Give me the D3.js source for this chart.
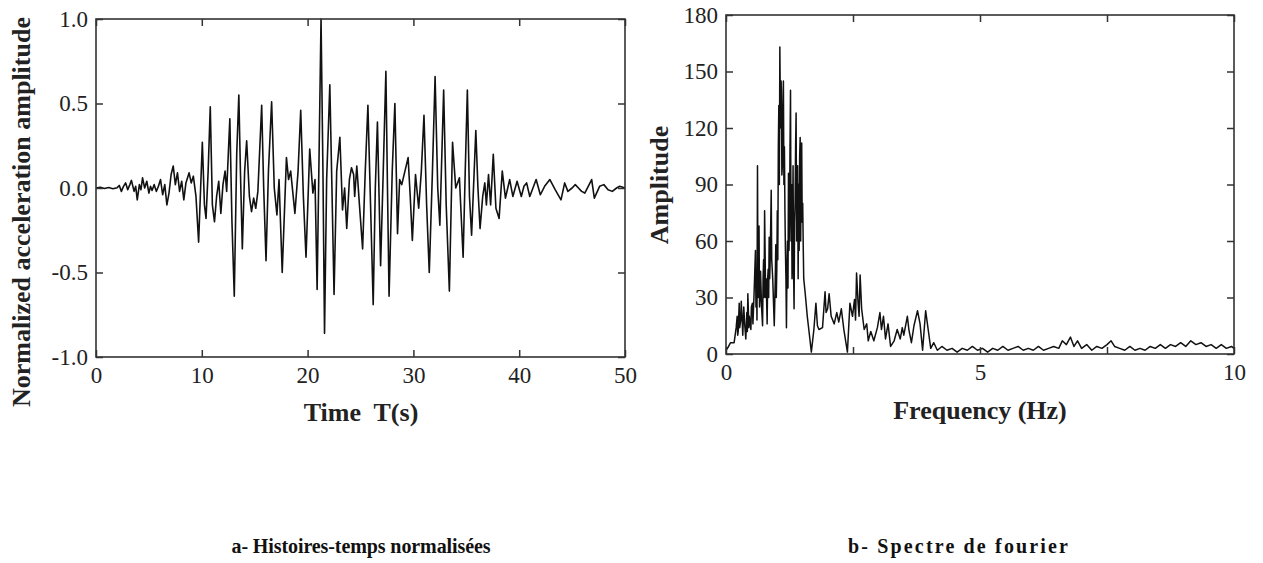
<!DOCTYPE html>
<html>
<head>
<meta charset="utf-8">
<script src="https://cdn.jsdelivr.net/npm/d3@7"></script>
<style>
  body { margin: 0; background: #fff; }
  svg text { font-family: "Liberation Serif", "Times New Roman", serif; }
</style>
</head>
<body>
<script>
// Normalized acceleration time history: [time (s), amplitude]
const accSeries = [
  [0,0],[0.4,0.004],[0.8,-0.003],[1.2,0.003],[1.6,-0.004],[2.0,0.002],
  [2.2,0.015],[2.4,-0.02],[2.6,0.01],[2.8,0.03],[3.0,-0.01],[3.2,0.02],[3.35,0.045],[3.6,-0.02],[3.75,0.01],
  [3.9,-0.07],[4.1,0.02],[4.25,-0.01],[4.4,0.06],[4.6,0.0],[4.8,0.04],[5.0,-0.03],[5.15,0.01],[5.3,-0.015],
  [5.5,0.02],[5.7,-0.02],[5.9,0.01],[6.1,0.05],[6.3,-0.04],[6.5,0.02],[6.7,-0.1],[6.9,-0.03],[7.1,0.08],
  [7.3,0.13],[7.5,0.02],[7.7,0.09],[7.9,-0.02],[8.1,0.04],[8.3,-0.07],[8.5,0.03],[8.8,0.09],[9.0,0.03],
  [9.2,0.07],[9.45,-0.05],[9.7,-0.32],[10.05,0.27],[10.25,-0.1],[10.4,-0.18],[10.6,0.1],[10.8,0.48],
  [11.0,-0.1],[11.2,-0.2],[11.4,-0.05],[11.6,0.04],[11.8,-0.15],[12.0,0.02],[12.2,0.1],[12.35,-0.02],
  [12.65,0.41],[12.85,-0.2],[13.07,-0.64],[13.3,0.2],[13.5,0.55],[13.65,0.1],[13.83,-0.36],[14.05,0.1],
  [14.24,0.28],[14.5,-0.05],[14.7,-0.14],[14.9,-0.06],[15.1,-0.12],[15.3,-0.02],[15.66,0.49],[15.85,0.0],
  [16.07,-0.43],[16.3,0.1],[16.6,0.51],[16.85,0.0],[17.1,-0.16],[17.3,0.05],[17.6,-0.5],[18.0,0.18],
  [18.2,0.05],[18.4,0.1],[18.8,-0.15],[19.1,0.1],[19.35,0.46],[19.6,-0.05],[19.85,-0.41],[20.2,0.23],
  [20.5,-0.03],[20.7,0.05],[20.9,-0.6],[21.27,1.0],[21.45,0.1],[21.6,-0.86],[21.8,0.05],[22.1,0.61],
  [22.3,0.0],[22.5,-0.63],[22.75,0.1],[23.05,0.3],[23.3,-0.13],[23.5,0.0],[23.7,-0.24],[23.95,0.05],
  [24.15,0.12],[24.35,0.08],[24.45,-0.05],[24.65,0.13],[24.9,-0.1],[25.2,-0.36],[25.45,0.1],[25.7,0.49],
  [25.95,-0.1],[26.2,-0.69],[26.4,0.0],[26.6,0.39],[26.9,-0.46],[27.15,0.1],[27.4,0.69],[27.55,0.0],
  [27.7,-0.64],[28.0,0.1],[28.25,0.5],[28.5,-0.27],[28.7,0.05],[28.9,0.02],[29.2,0.1],[29.5,0.18],
  [29.7,-0.05],[29.9,-0.31],[30.2,0.08],[30.5,-0.12],[30.75,0.1],[31.0,0.43],[31.25,-0.1],[31.5,-0.5],
  [31.8,0.1],[32.05,0.66],[32.3,0.0],[32.5,-0.22],[32.86,0.58],[33.1,-0.1],[33.4,-0.61],[33.7,0.27],
  [34.0,0.0],[34.35,0.06],[34.7,-0.41],[34.9,0.1],[35.1,0.58],[35.3,-0.05],[35.5,-0.28],[35.9,0.34],
  [36.1,0.0],[36.3,-0.24],[36.55,-0.05],[36.75,0.03],[36.9,-0.1],[37.1,0.08],[37.3,-0.1],[37.55,0.2],
  [37.8,-0.12],[38.1,-0.18],[38.4,0.1],[38.7,-0.06],[39.1,0.05],[39.4,-0.05],[39.8,0.04],[40.2,-0.05],
  [40.45,0.01],[40.7,0.03],[41.0,-0.05],[41.3,0.0],[41.6,0.05],[42.0,-0.04],[42.4,0.01],[42.9,0.05],
  [43.4,-0.01],[43.95,-0.07],[44.3,0.03],[44.6,-0.02],[45.0,0.0],[45.3,0.02],[45.6,0.0],[45.9,-0.02],
  [46.2,-0.03],[46.85,0.05],[47.1,-0.06],[47.6,0.01],[48.0,0.02],[48.4,-0.01],[48.8,-0.02],[49.2,0.0],
  [49.5,0.01],[50,0.0]
];

// Fourier spectrum: [frequency (Hz), amplitude]
const fourierSeries = [
  [0,2],[0.05,4],[0.09,6],[0.16,6],[0.2,14],[0.22,20],[0.23,10],[0.24,12],[0.26,27],[0.27,14],[0.29,18],
  [0.3,28],[0.32,17],[0.33,10],[0.35,25],[0.37,15],[0.39,8],[0.41,22],[0.42,12],[0.43,32],[0.45,14],
  [0.46,20],[0.49,13],[0.5,25],[0.52,27],[0.53,16],[0.55,30],[0.58,55],[0.59,25],[0.6,40],[0.61,18],
  [0.62,100],[0.63,30],[0.64,60],[0.65,68],[0.66,25],[0.67,30],[0.68,44],[0.7,25],[0.72,15],[0.73,40],
  [0.74,50],[0.75,30],[0.76,76],[0.78,30],[0.79,40],[0.81,16],[0.82,40],[0.83,45],[0.84,30],[0.85,62],
  [0.86,40],[0.87,50],[0.89,87],[0.9,50],[0.92,40],[0.95,15],[0.97,40],[0.98,58],[0.99,30],[1.0,45],
  [1.01,76],[1.02,50],[1.03,110],[1.04,132],[1.05,90],[1.06,163],[1.07,130],[1.08,120],[1.085,145],
  [1.09,140],[1.1,95],[1.11,100],[1.12,130],[1.13,145],[1.14,90],[1.15,110],[1.16,76],[1.17,55],
  [1.18,40],[1.19,14],[1.2,45],[1.21,60],[1.22,35],[1.23,96],[1.24,55],[1.25,70],[1.26,110],[1.27,140],
  [1.28,60],[1.29,90],[1.3,40],[1.31,58],[1.32,100],[1.33,45],[1.34,24],[1.35,70],[1.36,80],[1.37,110],
  [1.38,128],[1.39,60],[1.40,70],[1.41,100],[1.42,40],[1.43,90],[1.44,55],[1.45,105],[1.46,115],
  [1.47,60],[1.48,95],[1.49,112],[1.5,70],[1.51,80],[1.52,58],[1.53,40],[1.56,32],[1.6,20],[1.63,13],
  [1.68,1],[1.73,13],[1.77,27],[1.8,15],[1.83,13],[1.9,14],[1.95,33],[1.97,22],[2.0,24],[2.03,32],
  [2.07,20],[2.13,16],[2.18,22],[2.22,17],[2.27,24],[2.32,13],[2.39,1],[2.44,27],[2.49,20],[2.53,29],
  [2.55,18],[2.57,43],[2.6,27],[2.62,20],[2.64,42],[2.67,24],[2.72,13],[2.77,16],[2.8,7],[2.85,12],
  [2.91,7],[2.98,14],[3.03,22],[3.06,13],[3.1,20],[3.14,8],[3.19,16],[3.24,4],[3.31,7],[3.37,13],
  [3.43,8],[3.47,14],[3.5,10],[3.57,20],[3.6,13],[3.65,6],[3.7,15],[3.77,23],[3.82,16],[3.87,2],
  [3.93,23],[3.98,13],[4.03,3],[4.09,6],[4.16,2],[4.25,4],[4.35,2],[4.45,3],[4.55,1],[4.65,3],[4.75,2],
  [4.85,4],[4.95,2],[5.05,3],[5.15,1],[5.25,3],[5.35,2],[5.45,4],[5.55,2],[5.65,3],[5.75,4],[5.85,2],
  [5.95,3],[6.05,2],[6.15,4],[6.25,2],[6.35,3],[6.45,4],[6.55,3],[6.62,7],[6.7,5],[6.78,9],[6.85,4],
  [6.92,7],[7.0,3],[7.1,5],[7.2,2],[7.3,4],[7.4,3],[7.5,5],[7.58,7],[7.65,4],[7.75,3],[7.85,2],[7.95,4],
  [8.05,2],[8.15,3],[8.25,2],[8.35,4],[8.45,3],[8.55,5],[8.65,3],[8.75,5],[8.85,4],[8.95,6],[9.05,4],
  [9.15,7],[9.25,5],[9.35,6],[9.45,4],[9.55,5],[9.65,3],[9.75,5],[9.85,3],[9.95,4],[10,3]
];

// Tick values
const timeTicks = [0, 10, 20, 30, 40, 50];
const accTicks = [-1.0, -0.5, 0.0, 0.5, 1.0];
const freqTicks = [0, 2.5, 5, 7.5, 10];
const freqLabels = [0, 5, 10];
const ampTicks = [0, 30, 60, 90, 120, 150, 180];

const width = 1263;
const height = 563;
const frameColor = "#333";

const svg = d3.select("body").append("svg")
    .attr("width", width)
    .attr("height", height)
    .attr("viewBox", [0, 0, width, height]);

svg.append("rect").attr("width", width).attr("height", height).attr("fill", "#fff");

// Draws one framed panel with inward ticks on all four sides
function panel(p) {
  const x = d3.scaleLinear().domain(p.xDomain).range([p.left, p.right]);
  const y = d3.scaleLinear().domain(p.yDomain).range([p.bottom, p.top]);

  const styleAxis = g => {
    g.select(".domain").remove();
    g.selectAll(".tick line").attr("stroke", frameColor).attr("stroke-width", 1.5);
    g.selectAll(".tick text")
      .attr("fill", "#222")
      .style("font-size", "23px")
      .style("font-family", '"Liberation Serif", serif');
  };

  // the signal
  svg.append("path")
      .datum(p.data)
      .attr("fill", "none")
      .attr("stroke", "#111")
      .attr("stroke-width", p.lineWidth)
      .attr("stroke-linejoin", "round")
      .attr("d", d3.line().x(d => x(d[0])).y(d => y(d[1])));

  svg.append("g")
      .attr("transform", `translate(0,${p.bottom})`)
      .call(d3.axisBottom(x).tickValues(p.xTicks).tickSize(-7).tickPadding(10).tickFormat(p.xFormat))
      .call(styleAxis);

  svg.append("g")
      .attr("transform", `translate(0,${p.top})`)
      .call(d3.axisTop(x).tickValues(p.xTicks).tickSize(-7).tickFormat(""))
      .call(styleAxis);

  svg.append("g")
      .attr("transform", `translate(${p.left},0)`)
      .call(d3.axisLeft(y).tickValues(p.yTicks).tickSize(-7).tickPadding(8).tickFormat(p.yFormat))
      .call(styleAxis);

  svg.append("g")
      .attr("transform", `translate(${p.right},0)`)
      .call(d3.axisRight(y).tickValues(p.yTicks).tickSize(-7).tickFormat(""))
      .call(styleAxis);

  // frame
  svg.append("rect")
      .attr("x", p.left)
      .attr("y", p.top)
      .attr("width", p.right - p.left)
      .attr("height", p.bottom - p.top)
      .attr("fill", "none")
      .attr("stroke", frameColor)
      .attr("stroke-width", 1.6);

  // axis titles
  svg.append("text")
      .attr("x", p.xTitle[0])
      .attr("y", p.xTitle[1])
      .attr("text-anchor", "middle")
      .attr("font-weight", "bold")
      .style("font-size", "26px")
      .style("white-space", "pre")
      .attr("fill", "#222")
      .text(p.xLabel);

  svg.append("text")
      .attr("transform", `translate(${p.yTitle[0]},${p.yTitle[1]}) rotate(-90)`)
      .attr("text-anchor", "middle")
      .attr("font-weight", "bold")
      .style("font-size", "26px")
      .attr("fill", "#222")
      .text(p.yLabel);
}

panel({
  data: accSeries, lineWidth: 1.6,
  xDomain: [0, 50], yDomain: [-1, 1],
  left: 96, right: 625, top: 19, bottom: 357,
  xTicks: timeTicks, yTicks: accTicks,
  xFormat: d => d, yFormat: d => d.toFixed(1),
  xLabel: "Time  T(s)", xTitle: [361, 421],
  yLabel: "Normalized acceleration amplitude", yTitle: [30, 212]
});

panel({
  data: fourierSeries, lineWidth: 1.5,
  xDomain: [0, 10], yDomain: [0, 180],
  left: 726, right: 1234, top: 15, bottom: 354,
  xTicks: freqTicks, yTicks: ampTicks,
  xFormat: d => freqLabels.includes(d) ? d : "", yFormat: d => d,
  xLabel: "Frequency (Hz)", xTitle: [980, 419],
  yLabel: "Amplitude", yTitle: [668, 185]
});

// captions under the two panels
const captions = [
  { text: "a- Histoires-temps normalisées", x: 361, w: 259 },
  { text: "b- Spectre de fourier", x: 958, w: 220 }
];

svg.selectAll(".caption")
  .data(captions)
  .join("text")
    .attr("class", "caption")
    .attr("x", d => d.x)
    .attr("y", 553)
    .attr("text-anchor", "middle")
    .attr("textLength", d => d.w)
    .attr("lengthAdjust", "spacing")
    .attr("font-weight", "bold")
    .style("font-size", "20px")
    .attr("fill", "#111")
    .text(d => d.text);
</script>
</body>
</html>
